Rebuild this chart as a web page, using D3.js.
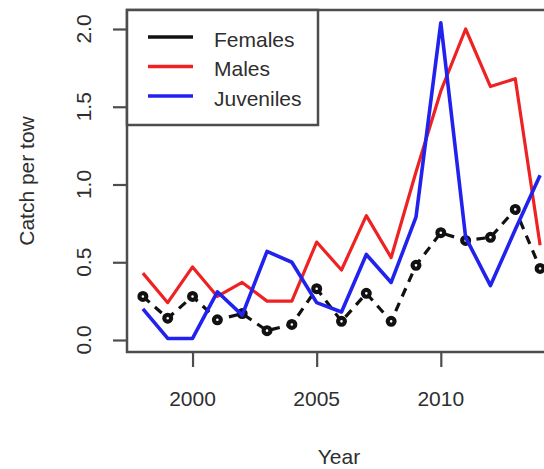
<!DOCTYPE html>
<html>
<head>
<meta charset="utf-8">
<script src="https://cdn.jsdelivr.net/npm/d3@7"></script>
<style>
  body { margin: 0; background: #fff; }
  text { font-family: "Liberation Sans", Arial, sans-serif; fill: #2e2e2e; }
</style>
</head>
<body>
<div id="chart"></div>
<script>

var years     = [1998,1999,2000,2001,2002,2003,2004,2005,2006,2007,2008,2009,2010,2011,2012,2013,2014]
var females   = [0.28,0.14,0.28,0.13,0.17,0.06,0.10,0.33,0.12,0.30,0.12,0.48,0.69,0.64,0.66,0.84,0.46]
var males     = [0.43,0.24,0.47,0.28,0.37,0.25,0.25,0.63,0.45,0.80,0.53,1.08,1.60,2.00,1.63,1.68,0.61]
var juveniles = [0.20,0.01,0.01,0.31,0.16,0.57,0.50,0.24,0.18,0.55,0.37,0.79,2.04,0.66,0.35,0.71,1.06]

var xTicks = [2000, 2005, 2010]
var yTicks = [0.0, 0.5, 1.0, 1.5, 2.0]
var legendLabels = ["Females", "Males", "Juveniles"]
var legendColors = ["#111", "#ee2222", "#2222ee"]

var width = 544, height = 469
var box = {left: 127, top: 10, right: 551, bottom: 352}

var x = d3.scaleLinear()
    .domain([1997.36, 2014.64])
    .range([box.left, 556])

var y = d3.scaleLinear()
    .domain([0, 2])
    .range([340, 29])

var svg = d3.select('#chart')
    .append('svg')
    .attr('width', width)
    .attr('height', height)

svg.append('rect')
    .attr('width', width)
    .attr('height', height)
    .attr('fill', '#fff')

// tick marks
svg.append('g')
    .attr('transform', 'translate(' + box.left + ',0)')
    .call(d3.axisLeft(y).tickValues(yTicks).tickSize(14).tickFormat(''))
    .call(function(g) {
        g.select('.domain').remove()
        g.selectAll('line').attr('stroke', '#4d4d4d').attr('stroke-width', 2.2)
    })

svg.append('g')
    .attr('transform', 'translate(0,' + box.bottom + ')')
    .call(d3.axisBottom(x).tickValues(xTicks).tickSize(15).tickFormat(''))
    .call(function(g) {
        g.select('.domain').remove()
        g.selectAll('line').attr('stroke', '#4d4d4d').attr('stroke-width', 2.2)
    })

// tick labels
svg.selectAll('.ylab')
    .data(yTicks)
    .enter().append('text')
    .attr('class', 'ylab')
    .attr('transform', function(d) { return 'translate(91,' + y(d) + ') rotate(-90)' })
    .attr('text-anchor', 'middle')
    .style('font-size', '21px')
    .text(d3.format('.1f'))

svg.selectAll('.xlab')
    .data(xTicks)
    .enter().append('text')
    .attr('class', 'xlab')
    .attr('x', function(d) { return x(d) })
    .attr('y', 406)
    .attr('text-anchor', 'middle')
    .style('font-size', '21px')
    .text(function(d) { return d })

// axis titles
svg.append('text')
    .attr('x', (box.left + box.right) / 2)
    .attr('y', 464)
    .attr('text-anchor', 'middle')
    .style('font-size', '21px')
    .text('Year')

svg.append('text')
    .attr('transform', 'translate(34,' + (box.top + box.bottom) / 2 + ') rotate(-90)')
    .attr('text-anchor', 'middle')
    .style('font-size', '21px')
    .text('Catch per tow')

var line = d3.line()
    .x(function(d, i) { return x(years[i]) })
    .y(function(d) { return y(d) })

var plot = svg.append('g')

// females: dashed line with open circles
plot.append('path')
    .datum(females)
    .attr('d', line)
    .attr('fill', 'none')
    .attr('stroke', legendColors[0])
    .attr('stroke-width', 3.2)
    .attr('stroke-dasharray', '9,7')

plot.selectAll('.fpt')
    .data(females)
    .enter().append('circle')
    .attr('class', 'fpt')
    .attr('cx', function(d, i) { return x(years[i]) })
    .attr('cy', function(d) { return y(d) })
    .attr('r', 3.4)
    .attr('fill', '#fff')
    .attr('stroke', legendColors[0])
    .attr('stroke-width', 4.2)

plot.append('path')
    .datum(males)
    .attr('d', line)
    .attr('fill', 'none')
    .attr('stroke', legendColors[1])
    .attr('stroke-width', 3.2)
    .attr('stroke-linejoin', 'round')

plot.append('path')
    .datum(juveniles)
    .attr('d', line)
    .attr('fill', 'none')
    .attr('stroke', legendColors[2])
    .attr('stroke-width', 3.6)
    .attr('stroke-linejoin', 'round')

// box
svg.append('rect')
    .attr('x', box.left)
    .attr('y', box.top)
    .attr('width', box.right - box.left)
    .attr('height', box.bottom - box.top)
    .attr('fill', 'none')
    .attr('stroke', '#4d4d4d')
    .attr('stroke-width', 2.5)

// legend
var legend = svg.append('g')

legend.append('rect')
    .attr('x', box.left)
    .attr('y', box.top)
    .attr('width', 191)
    .attr('height', 115)
    .attr('fill', '#fff')
    .attr('stroke', '#4d4d4d')
    .attr('stroke-width', 2.5)

var items = legend.selectAll('.item')
    .data(legendLabels)
    .enter().append('g')
    .attr('transform', function(d, i) { return 'translate(0,' + (37 + i * 29.5) + ')' })

items.append('line')
    .attr('x1', 148)
    .attr('x2', 193)
    .attr('stroke', function(d, i) { return legendColors[i] })
    .attr('stroke-width', 3.5)

items.append('text')
    .attr('x', 214)
    .attr('y', 9.5)
    .style('font-size', '21px')
    .text(function(d) { return d })

</script>
</body>
</html>
